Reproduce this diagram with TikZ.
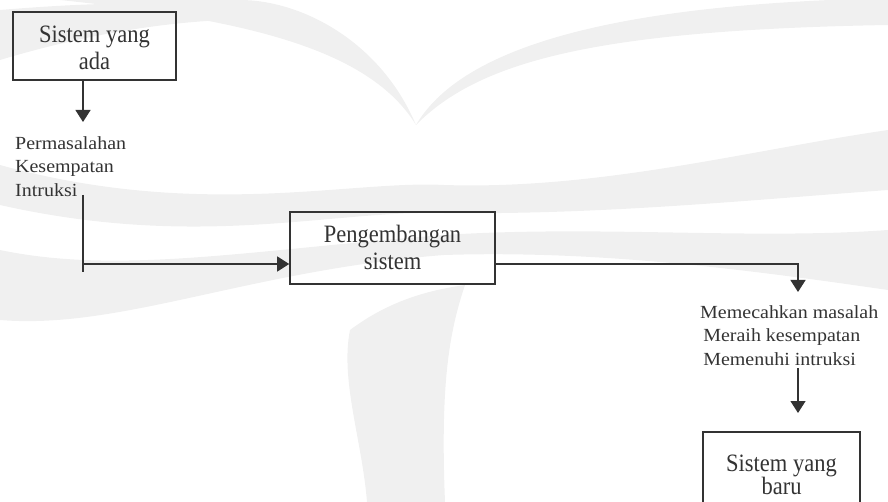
\documentclass[tikz,border=0pt]{standalone}
\usepackage{fontspec}
\setmainfont{Liberation Serif}
\newfontfamily\boxfont[FakeStretch=0.9]{Liberation Serif}
\newfontfamily\lblfont[FakeStretch=1.08]{Liberation Serif}
\usetikzlibrary{arrows.meta}
\definecolor{ink}{HTML}{333333}
\definecolor{wm}{HTML}{F0F0F0}
\tikzset{
  box/.style={draw=ink, line width=1.6pt, minimum width=#1, inner sep=0pt, align=center,
              font=\boxfont\fontsize{25}{27}\selectfont, text=ink},
  lbl/.style={inner sep=0pt, align=left, font=\lblfont\fontsize{18.5}{23.5}\selectfont, text=ink},
  flow/.style={draw=ink, line width=1.3pt},
  arr/.style={flow, -{Triangle[length=12pt, width=15pt]}},
}
\begin{document}
\begin{tikzpicture}[x=1pt, y=-1pt]
\useasboundingbox (0,0) rectangle (888,502);
% faint watermark
\fill[wm] (60,0) .. controls (250,20) and (370,50) .. (416,125) .. controls (380,40) and (300,0) .. (240,0) -- cycle;
\fill[wm] (0,10) .. controls (120,0) and (220,0) .. (300,20) .. controls (200,15) and (100,30) .. (0,60) -- cycle;
\fill[wm] (830,0) .. controls (600,10) and (460,50) .. (416,125) .. controls (480,60) and (600,30) .. (888,25) -- (888,0) -- cycle;
\fill[wm] (0,165) .. controls (200,220) and (350,180) .. (444,185) .. controls (600,190) and (750,150) .. (888,130) -- (888,190) .. controls (750,200) and (600,215) .. (444,213) .. controls (330,210) and (200,250) .. (0,205) -- cycle;
\fill[wm] (0,250) .. controls (120,275) and (250,250) .. (444,235) .. controls (600,225) and (750,240) .. (888,230) -- (888,290) .. controls (750,270) and (600,250) .. (444,255) .. controls (250,270) and (120,330) .. (0,320) -- cycle;
\fill[wm] (350,330) .. controls (390,300) and (430,290) .. (465,285) .. controls (450,330) and (440,380) .. (445,502) -- (367,502) .. controls (362,440) and (340,380) .. (350,330) -- cycle;
% boxes
\node[box=163pt, minimum height=68pt] (b1) at (94.5,46) {\raisebox{-5pt}[\height][\depth]{\begin{tabular}{@{}c@{}}Sistem yang\\ada\end{tabular}}};
\node[box=205pt, minimum height=72pt] (b2) at (392.5,248) {\raisebox{-3pt}[\height][\depth]{\begin{tabular}{@{}c@{}}Pengembangan\\sistem\end{tabular}}};
\node[box=157pt, minimum height=76pt] (b3) at (781.5,470) {\raisebox{-8pt}[\height][\depth]{\begin{tabular}{@{}c@{}}Sistem yang\\[-4pt]baru\end{tabular}}};
% labels
\node[lbl, anchor=north west] (t1) at (15,136) {Permasalahan\\Kesempatan\\Intruksi};
\node[lbl, anchor=north west] (t2) at (700,305) {Memecahkan masalah\\\,Meraih kesempatan\\\,Memenuhi intruksi};
% coordinates
\coordinate (a1) at (83,122);
\coordinate (c1) at (83,195);
\coordinate (c2) at (83,272);
\coordinate (c3) at (83,264);
\coordinate (c4) at (798,264);
\coordinate (a2) at (798,292);
\coordinate (c5) at (798,368);
\coordinate (a3) at (798,413);
% connectors
\draw[arr] (b1.south -| a1) -- (a1);
\draw[flow] (c1) -- (c2);
\draw[arr] (c3) -- (b2.west |- c3);
\draw[arr] (b2.east |- c4) -- (c4) -- (a2);
\draw[arr] (c5) -- (a3);
\end{tikzpicture}
\end{document}
